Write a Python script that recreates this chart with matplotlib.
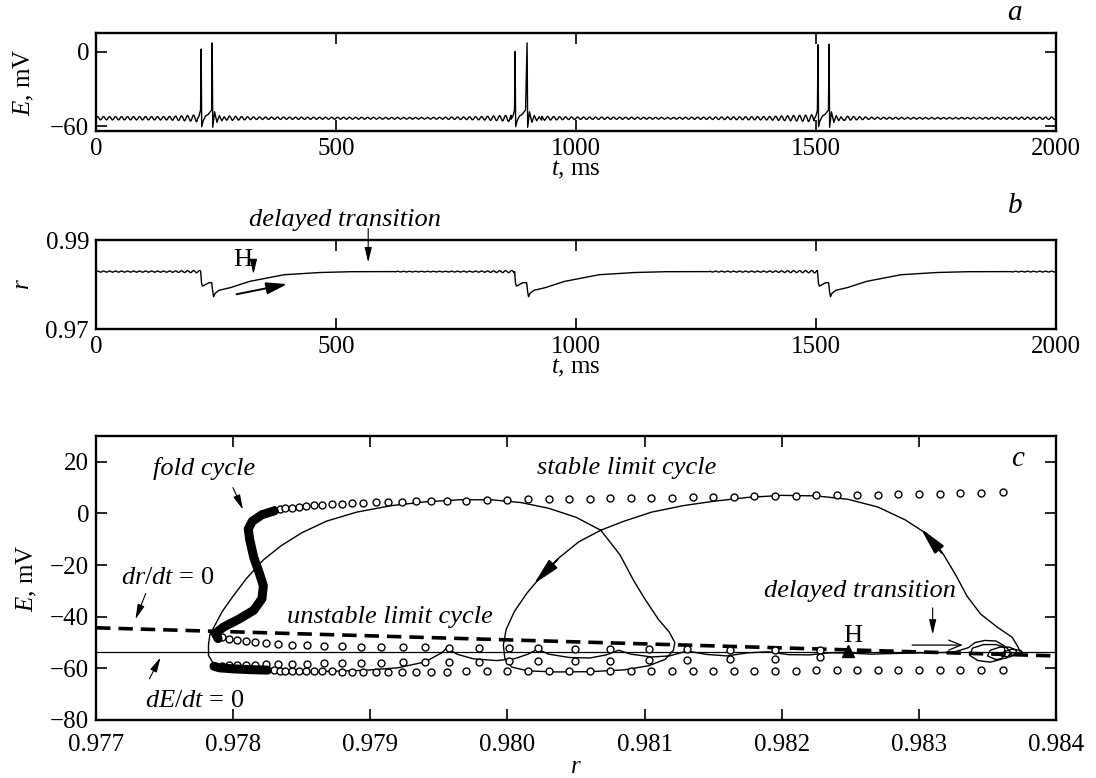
import numpy as np
import matplotlib
matplotlib.use('Agg')
import matplotlib.pyplot as plt

plt.rcParams['font.family'] = ['Liberation Serif', 'DejaVu Serif']
plt.rcParams['mathtext.fontset'] = 'custom'
plt.rcParams['mathtext.rm'] = 'Liberation Serif'
plt.rcParams['mathtext.it'] = 'Liberation Serif:italic'
plt.rcParams['font.size'] = 18
plt.rcParams['axes.linewidth'] = 1.7

# ---------------- panels a, b: time traces ----------------
spike1_t = [219, 873, 1504]          # ms, first spike of each doublet
spike2_t = [242, 898, 1527]          # ms, second spike
spike1_E = [2.0, 0.0, 5.5]           # mV, peaks
spike2_E = [7.0, 7.0, 6.0]
E_rest = -53.7
r_rest = 0.98290

ripple_period = 12.5                 # ms, subthreshold oscillation
ripple_t = [0, 150, 195, 211, 275, 330, 500, 700, 800, 850, 865, 935, 990, 1200, 1400, 1470, 1496, 1565, 1620, 1800, 1950, 2000]
ripple_amp = [1.3, 1.4, 2.2, 2.8, 1.8, 1.0, 0.8, 0.7, 1.3, 2.2, 2.8, 1.6, 1.0, 0.7, 1.4, 2.4, 2.8, 1.6, 0.8, 0.6, 0.9, 1.0]

# voltage around a doublet: offsets from spike 1 / spike 2
pre_dt = [-8, -4, -1.2]
pre_E = [-54.5, -51.5, -47.0]
mid_dt = [1.2, 4, 9, 15, 21.8]
mid_E = [-60.5, -56.0, -52.0, -50.5, -47.0]
post_dt = [1.2, 5, 10, 15, 20, 25, 30]
post_E = [-61.0, -48.5, -57.0, -51.5, -55.8, -52.5, -55.2]

# recovery variable r around a doublet
r_mid_dt = [-1, 1, 3, 9, 16]
r_mid = [0.98290, 0.98020, 0.97964, 0.98000, 0.98040]
r_post_dt = [-1, 1, 3, 6, 14, 38, 78, 150, 225, 290, 380]
r_post = [0.98040, 0.97850, 0.97725, 0.97800, 0.97870, 0.97930, 0.98070, 0.98220, 0.98270, 0.98288, 0.98290]


def ripple(t0, t1, base, scale):
    t = np.arange(t0, t1, 0.5)
    amp = np.interp(t, ripple_t, ripple_amp)
    return list(t), list(base + scale * amp * np.sin(2 * np.pi * t / ripple_period))


def build_E():
    T, E = [], []
    start = 0
    for k in range(3):
        t1, t2 = spike1_t[k], spike2_t[k]
        a, b = ripple(start, t1 + pre_dt[0], E_rest, 1.0)
        T += a; E += b
        T += [t1 + d for d in pre_dt] + [t1] + [t1 + d for d in mid_dt]
        E += pre_E + [spike1_E[k]] + mid_E
        T += [t2] + [t2 + d for d in post_dt]
        E += [spike2_E[k]] + post_E
        start = t2 + post_dt[-1] + 1
    a, b = ripple(start, 2000.5, E_rest, 1.0)
    return T + a, E + b


def build_r():
    T, R = [], []
    start = 0
    for k in range(3):
        t1, t2 = spike1_t[k], spike2_t[k]
        a, b = ripple(start, t1 + r_mid_dt[0], r_rest, 0.0001)
        T += a; R += b
        T += [t1 + d for d in r_mid_dt]
        R += r_mid
        T += [t2 + d for d in r_post_dt]
        R += r_post
        start = t2 + r_post_dt[-1] + 1
    a, b = ripple(start, 2000.5, r_rest, 0.0001)
    return T + a, R + b


# ---------------- panel c: phase plane (r, E) ----------------
fold_r = [0.97830, 0.97821, 0.97814, 0.97811, 0.97812, 0.97815, 0.97819, 0.97822, 0.97821, 0.97815, 0.97804, 0.97793, 0.97787, 0.97789]
fold_E = [1.0, -0.5, -3.0, -6.0, -10.0, -17.0, -23.0, -28.0, -33.0, -37.5, -41.0, -44.0, -46.5, -48.5]
fold_low_r = [0.97786, 0.97790, 0.97800, 0.97812, 0.97825]
fold_low_E = [-59.2, -59.8, -60.2, -60.5, -60.7]

stable_r = [0.97830, 0.97834, 0.97838, 0.97843, 0.97848, 0.97853, 0.97859, 0.97865, 0.97872, 0.97879,
            0.97887, 0.97895, 0.97904, 0.97913, 0.97923, 0.97933, 0.97944, 0.97956, 0.97970, 0.97985,
            0.98000, 0.98015, 0.98030, 0.98045, 0.98060, 0.98075, 0.98090, 0.98105, 0.98120, 0.98135,
            0.98150, 0.98165, 0.98180, 0.98195, 0.98210, 0.98225, 0.98240, 0.98255, 0.98270, 0.98285,
            0.98300, 0.98315, 0.98330, 0.98345, 0.98361]
stable_max = [1.2, 1.6, 2.0, 2.3, 2.6, 2.9, 3.1, 3.3, 3.5, 3.7,
              3.9, 4.1, 4.3, 4.5, 4.6, 4.7, 4.8, 4.9, 5.0, 5.1,
              5.3, 5.4, 5.5, 5.6, 5.7, 5.8, 5.9, 6.0, 6.1, 6.2,
              6.4, 6.5, 6.6, 6.8, 6.9, 7.0, 7.1, 7.2, 7.3, 7.4,
              7.5, 7.6, 7.8, 8.0, 8.3]
stable_min = [-60.8, -60.9, -61.0, -61.0, -61.1, -61.1, -61.2, -61.2, -61.2, -61.3,
              -61.3, -61.3, -61.3, -61.3, -61.3, -61.3, -61.3, -61.3, -61.2, -61.2,
              -61.2, -61.2, -61.2, -61.1, -61.1, -61.1, -61.1, -61.0, -61.0, -61.0,
              -61.0, -60.9, -60.9, -60.9, -60.9, -60.8, -60.8, -60.8, -60.8, -60.7,
              -60.7, -60.7, -60.6, -60.6, -60.6]

unstable_r = [0.97792, 0.97797, 0.97803, 0.97809, 0.97816, 0.97824, 0.97833, 0.97843, 0.97854, 0.97866,
              0.97879, 0.97893, 0.97908, 0.97924, 0.97940, 0.97957, 0.97979, 0.98001, 0.98022, 0.98049,
              0.98075, 0.98103, 0.98131, 0.98162, 0.98195, 0.98228]
unstable_max = [-48.0, -48.6, -49.1, -49.5, -49.9, -50.2, -50.5, -50.8, -51.0, -51.2,
                -51.4, -51.6, -51.7, -51.8, -51.9, -52.0, -52.1, -52.2, -52.3, -52.4,
                -52.5, -52.6, -52.7, -52.8, -52.9, -53.0]
unstable_min = [-59.0, -58.9, -58.8, -58.7, -58.6, -58.5, -58.4, -58.3, -58.2, -58.1,
                -58.0, -57.9, -57.8, -57.7, -57.6, -57.5, -57.4, -57.3, -57.2, -57.1,
                -57.0, -56.9, -56.7, -56.5, -56.2, -55.8]

# trajectory of one doublet: right spike, left spike, slow recovery towards H
traj_r = [0.98374, 0.98372, 0.98368, 0.98357, 0.98345, 0.98335, 0.98327, 0.98318, 0.98306, 0.98290,
          0.98270, 0.98248, 0.98225, 0.98200, 0.98175, 0.98150, 0.98128, 0.98105, 0.98085, 0.98068,
          0.98052, 0.98038, 0.98025, 0.98014, 0.98005, 0.97999, 0.97997, 0.97998, 0.98003, 0.98015,
          0.98035, 0.98060, 0.98085, 0.98103, 0.98115, 0.98121, 0.98122, 0.98118, 0.98110, 0.98100,
          0.98092, 0.98082, 0.98068, 0.98050, 0.98030, 0.98010, 0.97988, 0.97965, 0.97940, 0.97915,
          0.97890, 0.97868, 0.97850, 0.97835, 0.97822, 0.97810, 0.97800, 0.97792, 0.97787, 0.97783,
          0.97782, 0.97782, 0.97786, 0.97800, 0.97825, 0.97860, 0.97895, 0.97920, 0.97940, 0.97952,
          0.97956, 0.97963, 0.97975, 0.97992, 0.98005, 0.98015, 0.98022, 0.98030, 0.98045, 0.98060,
          0.98072, 0.98081, 0.98090, 0.98105, 0.98118, 0.98131, 0.98145, 0.98160, 0.98175, 0.98190,
          0.98205, 0.98220, 0.98235, 0.98250, 0.98265, 0.98285, 0.98305, 0.98325]
traj_E = [-54.0, -51.5, -48.0, -44.0, -39.0, -32.0, -24.0, -16.0, -8.0, -2.5,
          2.5, 5.5, 6.8, 7.0, 6.2, 4.7, 3.0, 0.5, -3.0, -6.5,
          -11.0, -17.0, -24.0, -31.0, -38.0, -45.0, -51.0, -56.0, -59.5, -61.0,
          -61.4, -61.3, -60.6, -59.0, -56.5, -53.0, -50.0, -46.0, -41.0, -33.0,
          -26.0, -16.0, -6.5, -1.5, 2.0, 4.2, 5.3, 5.3, 4.5, 3.0,
          0.5, -3.0, -7.5, -12.5, -18.0, -25.0, -32.0, -38.0, -43.0, -47.0,
          -51.0, -55.0, -58.5, -60.6, -61.2, -61.3, -60.8, -59.8, -57.5, -54.0,
          -52.0, -54.5, -56.3, -57.0, -56.3, -54.5, -52.6, -54.5, -55.8, -56.0,
          -54.8, -53.0, -54.5, -55.6, -55.2, -53.3, -54.6, -55.2, -54.0, -53.6,
          -54.7, -54.8, -54.0, -54.1, -54.5, -54.2, -54.0, -53.8]

# shrinking loops of the delayed transition near the right end
spiral_r = [0.98325, 0.98336, 0.98341, 0.98348, 0.98356, 0.98362, 0.98363, 0.98360, 0.98352, 0.98343,
            0.98337, 0.98339, 0.98347, 0.98356, 0.98364, 0.98367, 0.98364, 0.98356, 0.98350, 0.98352,
            0.98359, 0.98366, 0.98371, 0.98371, 0.98366, 0.98360, 0.98362, 0.98368, 0.98374, 0.98376,
            0.98372, 0.98366, 0.98368, 0.98374]
spiral_E = [-53.8, -52.0, -50.0, -49.2, -49.4, -51.2, -54.0, -56.5, -57.6, -57.0,
            -55.0, -52.2, -50.8, -50.8, -52.0, -54.0, -56.0, -56.6, -55.2, -53.0,
            -51.8, -51.8, -53.0, -54.6, -55.6, -55.2, -53.5, -52.6, -53.0, -54.0,
            -55.0, -54.8, -53.9, -54.0]

nullcline_r = [0.977, 0.984]
drdt_E = [-44.3, -55.2]
dEdt_E = [-53.7, -53.7]
H_r, H_E = 0.98248, -53.4

fig = plt.figure(figsize=(10.96, 7.78), dpi=100)
ax_a = fig.add_axes([0.0876, 0.8316, 0.876, 0.126])
ax_b = fig.add_axes([0.0876, 0.5771, 0.876, 0.1144])
ax_c = fig.add_axes([0.0876, 0.0746, 0.876, 0.365])

for ax in (ax_a, ax_b, ax_c):
    ax.tick_params(direction='in', length=8, width=1.2, top=True, right=True, pad=5)
ax_c.tick_params(axis='x', pad=10)

note = 19
# panel a
tE, E = build_E()
ax_a.plot(tE, E, color='black', lw=1.0)
ax_a.set_xlim(0, 2000)
ax_a.set_ylim(-64, 15)
ax_a.set_xticks([0, 500, 1000, 1500, 2000])
ax_a.set_yticks([-60, 0])
ax_a.set_xlabel(r'$t$, ms', labelpad=-1)
ax_a.set_ylabel(r'$E$, mV', labelpad=10)
fig.text(0.926, 0.983, 'a', style='italic', ha='center', va='center', fontsize=21)

# panel b
tR, R = build_r()
ax_b.plot(tR, R, color='black', lw=1.0)
ax_b.set_xlim(0, 2000)
ax_b.set_ylim(0.97, 0.99)
ax_b.set_xticks([0, 500, 1000, 1500, 2000])
ax_b.set_yticks([0.97, 0.99])
ax_b.set_xlabel(r'$t$, ms', labelpad=-1)
ax_b.set_ylabel(r'$r$', labelpad=8)
fig.text(0.926, 0.735, 'b', style='italic', ha='center', va='center', fontsize=21)
ax_b.text(519, 0.9945, 'delayed transition', style='italic', ha='center', va='center',
          clip_on=False, fontsize=note)
ax_b.annotate('', xy=(567, 0.98435), xytext=(567, 0.9932),
              arrowprops=dict(arrowstyle='-|>,head_length=0.5,head_width=0.12', color='black', lw=0.8))
ax_b.text(306, 0.98543, 'H', ha='center', va='center', fontsize=note)
ax_b.annotate('', xy=(328, 0.9817), xytext=(328, 0.9858),
              arrowprops=dict(arrowstyle='-|>,head_length=0.5,head_width=0.12', color='black', lw=0.8))
ax_b.annotate('', xy=(404, 0.98022), xytext=(287, 0.97768),
              arrowprops=dict(arrowstyle='-|>,head_length=0.7,head_width=0.2', color='black', lw=1.4))

# panel c
ax_c.plot(nullcline_r, dEdt_E, color='black', lw=0.9)
ax_c.plot(nullcline_r, drdt_E, color='black', lw=2.6, dashes=(4, 2.2))
ax_c.plot(traj_r, traj_E, color='black', lw=1.0)
ax_c.plot(spiral_r, spiral_E, color='black', lw=1.0)
circ = dict(ls='none', marker='o', ms=5, mfc='white', mec='black', mew=1.0)
ax_c.plot(stable_r, stable_max, **circ)
ax_c.plot(stable_r, stable_min, **circ)
ax_c.plot(unstable_r, unstable_max, **circ)
ax_c.plot(unstable_r, unstable_min, **circ)
ax_c.plot(fold_r, fold_E, color='black', lw=6.5, solid_capstyle='round')
ax_c.plot(fold_low_r, fold_low_E, color='black', lw=6.5, solid_capstyle='round')
ax_c.plot([H_r], [H_E], marker='^', color='black', ms=8, ls='none')

arr = dict(arrowstyle='-|>,head_length=0.5,head_width=0.12', color='black', lw=0.8)
ax_c.annotate('', xy=(0.98300, -5.0), xytext=(0.98318, -16.0),
              arrowprops=dict(arrowstyle='-|>,head_length=0.9,head_width=0.2', color='black', lw=1.6))
ax_c.annotate('', xy=(0.98018, -28.0), xytext=(0.98038, -17.0),
              arrowprops=dict(arrowstyle='-|>,head_length=0.9,head_width=0.2', color='black', lw=1.4))

ax_c.text(0.97779, 17.5, 'fold cycle', style='italic', ha='center', va='center', fontsize=note)
ax_c.annotate('', xy=(0.97808, 0.5), xytext=(0.97799, 11.0), arrowprops=arr)
ax_c.text(0.98087, 17.5, 'stable limit cycle', style='italic', ha='center', va='center', fontsize=note)
ax_c.text(0.97752, -25.0, r'$dr/dt$ = 0', ha='center', va='center', fontsize=note)
ax_c.annotate('', xy=(0.97728, -42.0), xytext=(0.97737, -30.0), arrowprops=arr)
ax_c.text(0.97914, -40.0, 'unstable limit cycle', style='italic', ha='center', va='center', fontsize=note)
ax_c.text(0.97772, -72.5, r'$dE/dt$ = 0', ha='center', va='center', fontsize=note)
ax_c.annotate('', xy=(0.97748, -54.8), xytext=(0.97738, -65.0), arrowprops=arr)
ax_c.text(0.98257, -30.0, 'delayed transition', style='italic', ha='center', va='center', fontsize=note)
ax_c.annotate('', xy=(0.98310, -48.0), xytext=(0.98310, -35.5), arrowprops=arr)
ax_c.annotate('', xy=(0.98334, -51.0), xytext=(0.98293, -51.0),
              arrowprops=dict(arrowstyle='->,head_length=0.5,head_width=0.2', color='black', lw=0.9))
ax_c.text(0.98252, -47.5, 'H', ha='center', va='center', fontsize=note)
ax_c.text(0.98372, 21.0, 'c', style='italic', ha='center', va='center', fontsize=21)

ax_c.set_xlim(0.977, 0.984)
ax_c.set_ylim(-80, 30)
ax_c.set_xticks([0.977, 0.978, 0.979, 0.980, 0.981, 0.982, 0.983, 0.984])
ax_c.set_xticklabels(['0.977', '0.978', '0.979', '0.980', '0.981', '0.982', '0.983', '0.984'])
ax_c.set_yticks([-80, -60, -40, -20, 0, 20])
ax_c.set_xlabel(r'$r$', labelpad=0)
ax_c.set_ylabel(r'$E$, mV', labelpad=8)

fig.savefig('out.png', dpi=100)
